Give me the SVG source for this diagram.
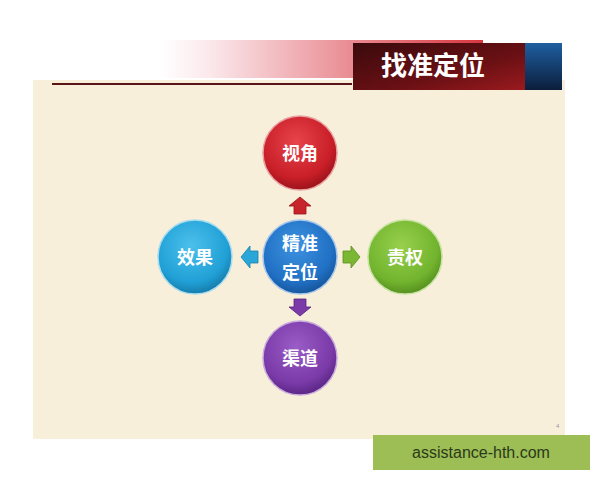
<svg xmlns="http://www.w3.org/2000/svg" width="600" height="480" viewBox="0 0 600 480">
<style>
.lbl{font-family:"Noto Sans CJK SC","Noto Sans",sans-serif;font-weight:bold;font-size:18px;fill:#fff;text-anchor:middle}
.ring{stroke-width:1.5}
</style>
<defs>
<linearGradient id="bar" x1="0" y1="0" x2="1" y2="0">
<stop offset="0" stop-color="#fff"/>
<stop offset="0.15" stop-color="#fbe9ec"/>
<stop offset="1" stop-color="#d8363f"/>
</linearGradient>
<linearGradient id="dark" x1="0" y1="0" x2="1" y2="1">
<stop offset="0" stop-color="#3a0a0c"/>
<stop offset="0.6" stop-color="#6a1014"/>
<stop offset="1" stop-color="#9a1a1e"/>
</linearGradient>
<linearGradient id="blue" x1="0" y1="0" x2="0" y2="1">
<stop offset="0" stop-color="#1f5fa0"/>
<stop offset="1" stop-color="#0b1e3c"/>
</linearGradient>
<radialGradient id="gRed" cx="0.45" cy="0.35" r="0.7">
<stop offset="0" stop-color="#e8444c"/><stop offset="0.7" stop-color="#c81e28"/><stop offset="1" stop-color="#8e0f16"/>
</radialGradient>
<radialGradient id="gCyan" cx="0.45" cy="0.35" r="0.7">
<stop offset="0" stop-color="#4cc0ec"/><stop offset="0.7" stop-color="#20a0d6"/><stop offset="1" stop-color="#12729e"/>
</radialGradient>
<radialGradient id="gBlue" cx="0.45" cy="0.35" r="0.7">
<stop offset="0" stop-color="#3e92e0"/><stop offset="0.7" stop-color="#2070c4"/><stop offset="1" stop-color="#144e90"/>
</radialGradient>
<radialGradient id="gGreen" cx="0.45" cy="0.35" r="0.7">
<stop offset="0" stop-color="#98d04c"/><stop offset="0.7" stop-color="#72b42e"/><stop offset="1" stop-color="#4e861c"/>
</radialGradient>
<radialGradient id="gPurple" cx="0.45" cy="0.35" r="0.7">
<stop offset="0" stop-color="#9a5cc6"/><stop offset="0.7" stop-color="#7a3aa8"/><stop offset="1" stop-color="#52207a"/>
</radialGradient>
<path id="arrowUp" d="M-6,8 L-6,0 L-11,0 L0,-9 L11,0 L6,0 L6,8 Z"/>
</defs>
<rect width="600" height="480" fill="#fff"/>
<rect x="33" y="80" width="532" height="359" fill="#f8efda"/>
<rect x="160" y="40" width="323" height="38" fill="url(#bar)"/>
<line x1="52" y1="84" x2="352" y2="84" stroke="#5a1518" stroke-width="2"/>
<rect x="353" y="43" width="172" height="47" fill="url(#dark)"/>
<rect x="525" y="43" width="37" height="47" fill="url(#blue)"/>
<text x="433" y="75" style="font-family:'Noto Sans CJK SC','Noto Sans',sans-serif;font-weight:bold;font-size:26px;fill:#fff;text-anchor:middle">找准定位</text>
<text x="556" y="428" style="font-family:'Liberation Sans',sans-serif;font-size:6px;fill:#999">4</text>

<g id="connectors">
<use href="#arrowUp" transform="translate(300,206)" fill="#c8242c" stroke="#9a1418" stroke-width="0.8"/>
<use href="#arrowUp" transform="translate(300,307) rotate(180)" fill="#7a3aa8" stroke="#5a2080" stroke-width="0.8"/>
<use href="#arrowUp" transform="translate(250,257) rotate(-90)" fill="#2aa6d8" stroke="#1a80aa" stroke-width="0.8"/>
<use href="#arrowUp" transform="translate(351,257) rotate(90)" fill="#7ab834" stroke="#5a8e20" stroke-width="0.8"/>
</g>

<g id="n-top">
<circle cx="300" cy="153" r="37" fill="url(#gRed)" stroke="#e9a0a0" class="ring"/>
<text class="lbl" x="300" y="160">视角</text>
</g>
<g id="n-left">
<circle cx="195" cy="257" r="37" fill="url(#gCyan)" stroke="#a8dcef" class="ring"/>
<text class="lbl" x="195" y="264">效果</text>
</g>
<g id="n-center">
<circle cx="300" cy="257" r="37" fill="url(#gBlue)" stroke="#a6c6ea" class="ring"/>
<text class="lbl" x="300" y="250">精准</text>
<text class="lbl" x="300" y="279">定位</text>
</g>
<g id="n-right">
<circle cx="405" cy="257" r="37" fill="url(#gGreen)" stroke="#c6e2a0" class="ring"/>
<text class="lbl" x="405" y="264">责权</text>
</g>
<g id="n-bottom">
<circle cx="300" cy="358" r="37" fill="url(#gPurple)" stroke="#c8aadc" class="ring"/>
<text class="lbl" x="300" y="365">渠道</text>
</g>

<rect x="373" y="435" width="217" height="35" fill="#9dbd55"/>
<text x="481" y="458" style="font-family:'Liberation Sans',sans-serif;font-size:16px;fill:#2a3a1a;text-anchor:middle">assistance-hth.com</text>
</svg>
